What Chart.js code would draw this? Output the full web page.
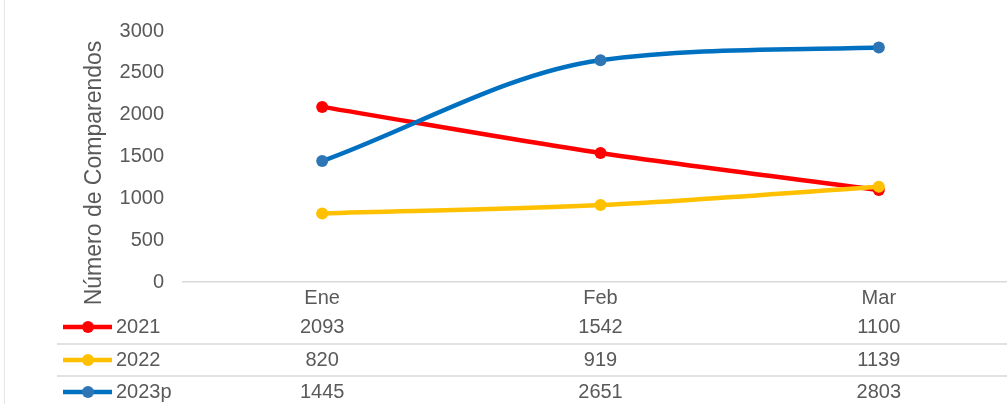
<!DOCTYPE html>
<html lang="es">
<head>
<meta charset="UTF-8">
<title>Número de Comparendos</title>
<script src="https://cdn.jsdelivr.net/npm/chart.js"></script>
<style>
  html, body { margin: 0; padding: 0; background: #fff; overflow: hidden; }
  .wrap { position: relative; width: 1030px; height: 404px; }
</style>
</head>
<body>
<div class="wrap"><canvas id="chart"></canvas></div>
<script>
// datos
const categories = ['Ene', 'Feb', 'Mar'];
const seriesNames = ['2021', '2022', '2023p'];
const values2021 = [2093, 1542, 1100];
const values2022 = [820, 919, 1139];
const values2023p = [1445, 2651, 2803];
const axisTitle = 'Número de Comparendos';

const FONT = '"Liberation Sans", Arial, sans-serif';
const TEXT = '#595959';
const lineColors = ['#FF0000', '#FFC000', '#0070C0'];
const markerColors = ['#FF0000', '#FFC000', '#2E75B6'];
const seriesValues = [values2021, values2022, values2023p];

// tabla de datos debajo del eje, estilo Excel
const dataTable = {
  id: 'dataTable',
  afterDraw(chart) {
    const ctx = chart.ctx;
    const x = chart.scales.x;
    const rowY = [327, 360, 392];
    ctx.save();

    // borde izquierdo
    ctx.strokeStyle = '#e6e6e6';
    ctx.lineWidth = 1;
    ctx.beginPath();
    ctx.moveTo(4.5, 0);
    ctx.lineTo(4.5, 404);
    ctx.stroke();

    // separadores
    ctx.strokeStyle = '#d9d9d9';
    ctx.lineWidth = 1.5;
    [344, 376].forEach(y => {
      ctx.beginPath();
      ctx.moveTo(57, y);
      ctx.lineTo(chart.width, y);
      ctx.stroke();
    });

    ctx.font = '20px ' + FONT;
    ctx.textBaseline = 'middle';
    chart.data.datasets.forEach((ds, i) => {
      const y = rowY[i];
      ctx.strokeStyle = lineColors[i];
      ctx.lineWidth = 4.5;
      ctx.beginPath();
      ctx.moveTo(63, y);
      ctx.lineTo(112, y);
      ctx.stroke();
      ctx.fillStyle = markerColors[i];
      ctx.beginPath();
      ctx.arc(88, y, 6, 0, Math.PI * 2);
      ctx.fill();

      ctx.fillStyle = TEXT;
      ctx.textAlign = 'left';
      ctx.fillText(seriesNames[i], 116, y);
      ctx.textAlign = 'center';
      ds.data.forEach((v, j) => {
        ctx.fillText(String(v), x.getPixelForValue(j), y);
      });
    });

    // título del eje vertical
    ctx.translate(95, 173);
    ctx.rotate(-Math.PI / 2);
    ctx.font = '23px ' + FONT;
    ctx.textAlign = 'center';
    ctx.fillStyle = TEXT;
    ctx.fillText(axisTitle, 0, 0);
    ctx.restore();
  }
};

new Chart(document.getElementById('chart'), {
  type: 'line',
  data: {
    labels: categories,
    datasets: seriesValues.map((vals, i) => ({
      label: seriesNames[i],
      data: vals,
      borderColor: lineColors[i],
      backgroundColor: markerColors[i],
      pointBackgroundColor: markerColors[i],
      pointBorderColor: markerColors[i],
      borderWidth: 4.5,
      pointRadius: 6,
      pointBorderWidth: 0,
      cubicInterpolationMode: 'monotone',
      fill: false,
      order: 3 - i
    }))
  },
  options: {
    responsive: true,
    maintainAspectRatio: false,
    animation: false,
    layout: { padding: { top: 28, right: 12, left: 0, bottom: 0 } },
    plugins: {
      legend: { display: false },
      tooltip: { enabled: false }
    },
    scales: {
      x: {
        offset: true,
        grid: { display: false },
        border: { display: true, color: '#d9d9d9', width: 1.5 },
        ticks: { color: TEXT, font: { family: FONT, size: 20 }, padding: -4 },
        afterFit(scale) { scale.height = 122; }
      },
      y: {
        min: 0,
        max: 3000,
        grid: { display: false, drawTicks: false },
        border: { display: false },
        ticks: {
          stepSize: 500,
          color: TEXT,
          font: { family: FONT, size: 20 },
          padding: 19,
          callback: v => String(v)
        },
        afterFit(scale) { scale.width = 183; }
      }
    }
  },
  plugins: [dataTable]
});
</script>
</body>
</html>
